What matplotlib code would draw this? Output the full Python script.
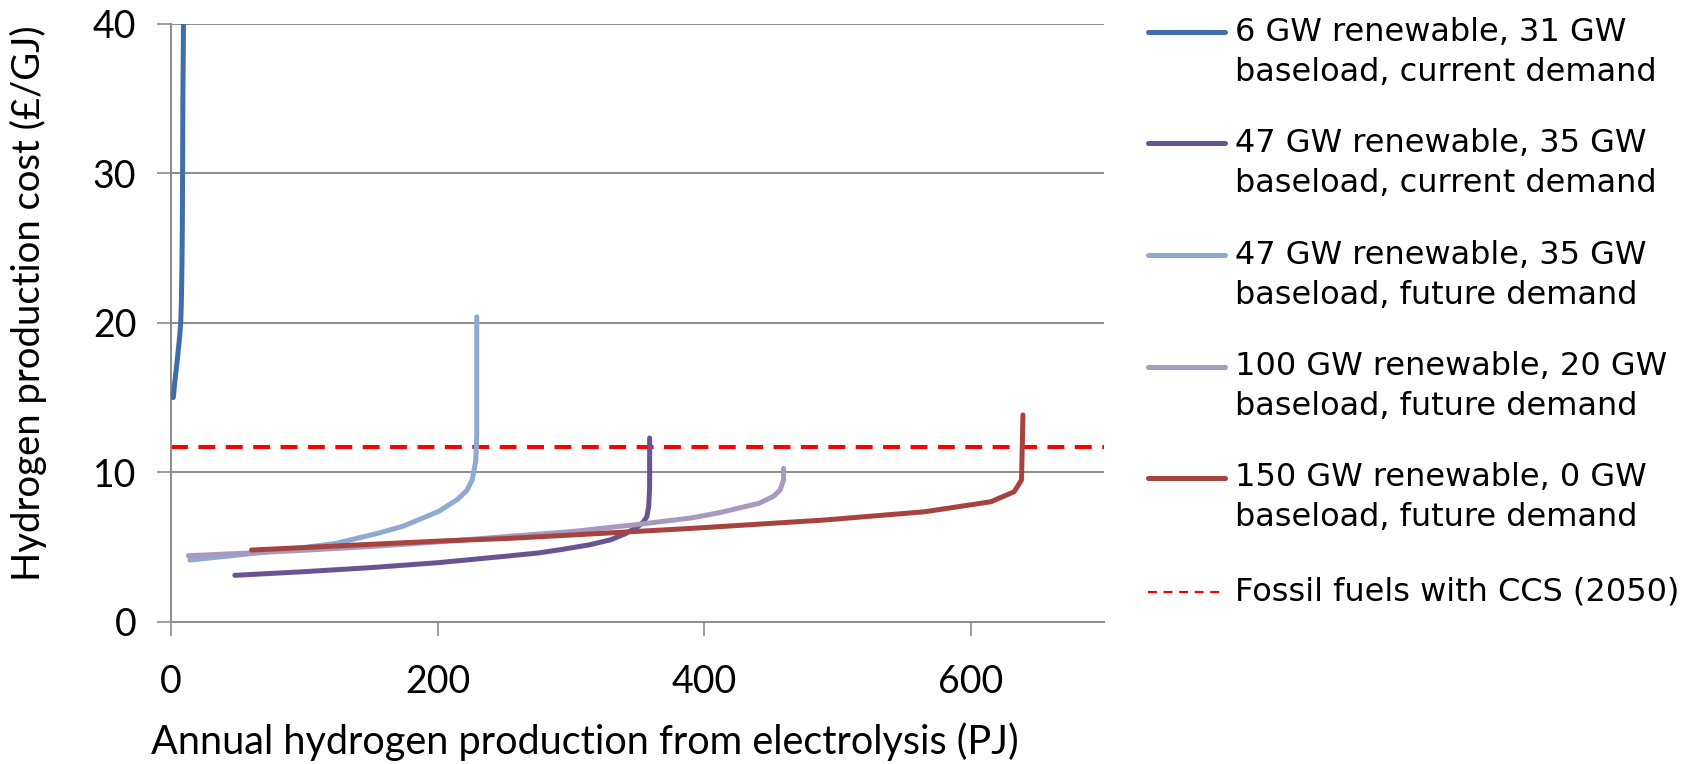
import matplotlib
matplotlib.use("Agg")
import matplotlib.pyplot as plt
from matplotlib.lines import Line2D

# ---------------- data ----------------
labels = [
    ["6 GW renewable, 31 GW", "baseload, current demand"],
    ["47 GW renewable, 35 GW", "baseload, current demand"],
    ["47 GW renewable, 35 GW", "baseload, future demand"],
    ["100 GW renewable, 20 GW", "baseload, future demand"],
    ["150 GW renewable, 0 GW", "baseload, future demand"],
]
fossil_label = "Fossil fuels with CCS (2050)"

s1_x = [1.7, 2.8, 4.2, 5.5, 6.5, 7.3, 7.8, 8.2, 8.5, 8.7, 8.9, 9.2, 9.4]
s1_y = [15.0, 16.0, 17.1, 18.2, 19.1, 20.0, 21.5, 23.7, 26.5, 30.0, 34.9, 38.0, 40.5]

s2_x = [47.9, 99, 148.9, 201, 253.6, 276, 291, 313.5, 330, 340.9, 350.9, 354.6, 357, 358.4, 359.1, 359.1]
s2_y = [3.12, 3.36, 3.63, 3.97, 4.42, 4.62, 4.82, 5.15, 5.5, 5.9, 6.42, 6.71, 7.04, 7.71, 9.0, 12.3]

s3_x = [14.2, 74, 106, 124, 156, 174, 201, 215, 222, 226, 228.7, 229.4, 229.4]
s3_y = [4.14, 4.70, 5.05, 5.26, 5.95, 6.40, 7.40, 8.2, 8.8, 9.5, 10.8, 12.5, 20.4]

s4_x = [13, 60, 100, 150, 200, 250, 300, 351, 390, 411, 441, 452, 457, 459.6, 459.6]
s4_y = [4.43, 4.62, 4.80, 5.05, 5.35, 5.70, 6.04, 6.53, 6.95, 7.30, 7.93, 8.4, 8.82, 9.5, 10.27]

s5_x = [60.4, 201, 253.6, 291, 390.7, 490.5, 565.4, 615.2, 632.6, 638.1, 639.2]
s5_y = [4.81, 5.41, 5.59, 5.77, 6.26, 6.82, 7.37, 8.04, 8.71, 9.49, 13.84]

fossil_x = [0, 700]
fossil_y = [11.7, 11.7]

colors = ["#3F6EAA", "#6A5392", "#8FAAD1", "#A899C0", "#A8423F"]
fossil_color = "#FF0000"

x_ticks = [0, 200, 400, 600]
y_ticks = [0, 10, 20, 30, 40]

# ---------------- figure ----------------
W, H = 1690, 764
fig = plt.figure(figsize=(W / 100, H / 100), dpi=100)
ax = fig.add_axes([171 / W, 1 - 622 / H, (1104 - 171) / W, (622 - 23.7) / H])

series = [(s1_x, s1_y), (s2_x, s2_y), (s3_x, s3_y), (s4_x, s4_y), (s5_x, s5_y)]
draw_order = [0, 2, 3, 1, 4]
for i in draw_order:
    xs, ys = series[i]
    ax.plot(xs, ys, color=colors[i], lw=3.6, solid_joinstyle="round",
            solid_capstyle="round", zorder=3 + i * 0.1)
ax.plot(fossil_x, fossil_y, color=fossil_color, lw=2.9, dashes=[4.2, 2.6], zorder=2.5)

ax.set_xlim(0, 700)
ax.set_ylim(0, 40)
ax.set_xticks(x_ticks)
ax.set_yticks(y_ticks)
grid_c = "#8C8C8C"
ax.yaxis.grid(True, color=grid_c, lw=1.4)
ax.set_axisbelow(True)
for s in ["top", "right"]:
    ax.spines[s].set_visible(False)
for s in ["left", "bottom"]:
    ax.spines[s].set_color(grid_c)
    ax.spines[s].set_linewidth(1.4)
ax.tick_params(axis="both", direction="out", length=10, width=1.2, color=grid_c)
ax.tick_params(axis="y", pad=15)
ax.tick_params(axis="x", pad=20)

tick_font = "Lato"
for lab in ax.get_xticklabels() + ax.get_yticklabels():
    lab.set_fontfamily(tick_font)
    lab.set_fontsize(27)
ax.set_xlabel("Annual hydrogen production from electrolysis (PJ)", fontfamily=tick_font,
              fontsize=28.5)
ax.set_ylabel("Hydrogen production cost (£/GJ)", fontfamily=tick_font, fontsize=27.5)
ax.xaxis.set_label_coords((585 - 171) / (1104 - 171), -(742 - 622) / (622 - 23.7))
ax.yaxis.set_label_coords(-(171 - 28) / (1104 - 171), (622 - 303) / (622 - 23.7))
ax.xaxis.label.set_va("center")
ax.yaxis.label.set_va("center")

# ---------------- legend (manual) ----------------
leg_font = "DejaVu Sans"
leg_size = 23
first_y = [32.3, 143.3, 255.4, 366.5, 477.5]
hx0, hx1, tx = 1148, 1225, 1235
for i, (l1, l2) in enumerate(labels):
    yy = 1 - first_y[i] / H
    fig.add_artist(Line2D([hx0 / W, hx1 / W], [yy, yy], color=colors[i], lw=3.6,
                          solid_capstyle="round", transform=fig.transFigure))
    fig.text(tx / W, yy, l1, fontfamily=leg_font, fontsize=leg_size, va="center", ha="left")
    fig.text(tx / W, 1 - (first_y[i] + 40) / H, l2, fontfamily=leg_font, fontsize=leg_size,
             va="center", ha="left")
yy = 1 - 591.7 / H
fig.add_artist(Line2D([hx0 / W, 1222 / W], [yy, yy], color=fossil_color, lw=1.6,
                      dashes=[4, 3], transform=fig.transFigure))
fig.text(tx / W, yy, fossil_label, fontfamily=leg_font, fontsize=leg_size, va="center", ha="left")

fig.savefig("out.png", dpi=100)
